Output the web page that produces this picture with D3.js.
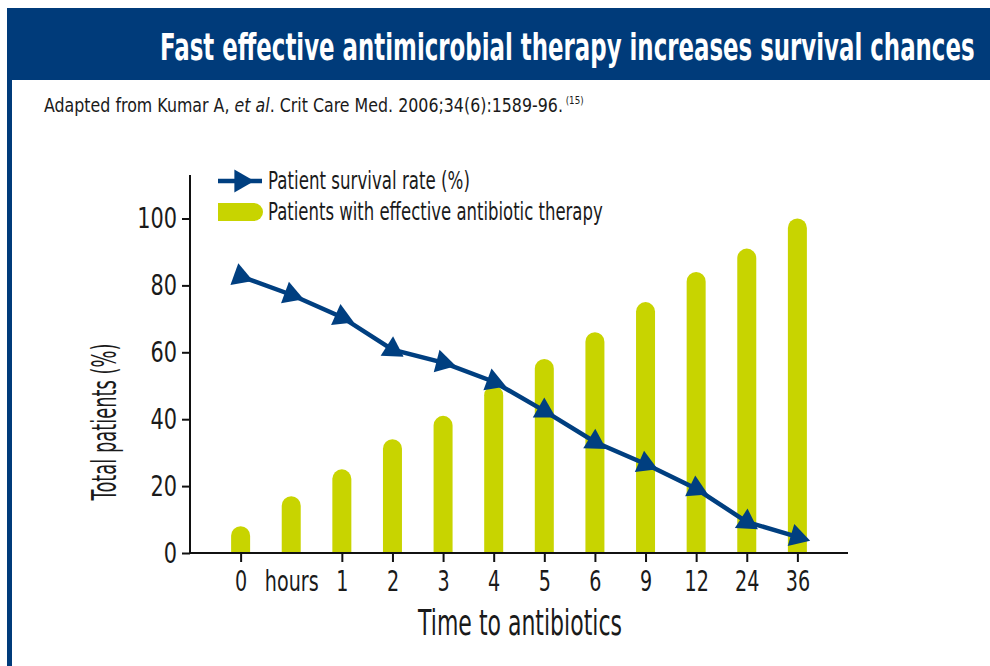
<!DOCTYPE html>
<html>
<head>
<meta charset="utf-8">
<script src="https://cdn.jsdelivr.net/npm/d3@7"></script>
<style>
  html, body { margin: 0; padding: 0; background: #fff; }
  svg { display: block; }
  text { font-family: "Liberation Sans Narrow", "DejaVu Sans", "Roboto", sans-serif; }
</style>
</head>
<body>
<script>
const categories = ["0", "hours", "1", "2", "3", "4", "5", "6", "9", "12", "24", "36"];
const therapyValues = [8, 17, 25, 34, 41, 50, 58, 66, 75, 84, 91, 100];
const survivalValues = [82.7, 77.2, 70.5, 60.8, 56.9, 51.2, 42.5, 33.2, 26.6, 19.2, 9.3, 4.8];
const yTicks = [0, 20, 40, 60, 80, 100];
const noTickCategories = ["hours"];

const W = 990, H = 666;
const blue = "#003b7a", lineBlue = "#003f80", barColor = "#c8d400", ink = "#1a1a1a";

const svg = d3.select("body").append("svg").attr("width", W).attr("height", H);

// horizontal squeeze helpers (condensed look)
function fitWidth(sel, target) {
  sel.each(function () {
    const n = this, w = n.getComputedTextLength();
    const s = target / w;
    const X = +(n.getAttribute("x") || 0);
    n.setAttribute("transform", `translate(${X},0) scale(${s},1) translate(${-X},0)`);
  });
}
function squeeze(sel, s) {
  sel.each(function () {
    const X = +(this.getAttribute("x") || 0);
    this.setAttribute("transform", `translate(${X},0) scale(${s},1) translate(${-X},0)`);
  });
}

// header
svg.append("rect").attr("x", 7).attr("y", 8).attr("width", W - 7).attr("height", 72).attr("fill", blue);
svg.append("rect").attr("x", 7).attr("y", 80).attr("width", 5).attr("height", H - 80).attr("fill", blue);
const title = svg.append("text").attr("x", 160).attr("y", 60)
  .attr("fill", "#fff").attr("font-size", 37).attr("font-weight", "bold")
  .text("Fast effective antimicrobial therapy increases survival chances");
fitWidth(title, 815);

// subtitle
const sub = svg.append("text").attr("x", 44).attr("y", 112).attr("font-size", 20).attr("fill", ink);
sub.append("tspan").text("Adapted from Kumar A, ");
sub.append("tspan").attr("font-style", "italic").text("et al");
sub.append("tspan").text(". Crit Care Med. 2006;34(6):1589-96.");
sub.append("tspan").attr("font-size", 11).attr("dy", -8).text(" (15)");
fitWidth(sub, 540);

// scales
const x = d3.scalePoint().domain(categories).range([190, 848]).padding(1);
const y = d3.scaleLinear().domain([0, 113]).range([553, 175]);

// bars
const bw = 19, r = bw / 2;
svg.append("g").selectAll("path").data(categories).join("path")
  .attr("fill", barColor)
  .attr("d", (c, i) => {
    const cx = x(c), x0 = cx - bw / 2, x1 = cx + bw / 2;
    const top = y(therapyValues[i]), base = y(0);
    return `M${x0},${base}V${top + r}A${r},${r} 0 0 1 ${x1},${top + r}V${base}Z`;
  });

// axes
const xAxis = svg.append("g").attr("transform", `translate(0,${y(0)})`)
  .call(d3.axisBottom(x).tickSizeOuter(0).tickSize(9).tickPadding(8));
xAxis.select(".domain").attr("d", `M190,0H848`).attr("stroke", "#111").attr("stroke-width", 2);
xAxis.selectAll(".tick line").attr("stroke", "#111").attr("stroke-width", 2)
  .attr("opacity", d => noTickCategories.includes(d) ? 0 : 1);
xAxis.selectAll(".tick text").attr("font-size", 29).attr("fill", ink)
  .style("font-family", '"Liberation Sans Narrow", "DejaVu Sans", sans-serif');
squeeze(xAxis.selectAll(".tick text"), 0.66);

const yAxis = svg.append("g").attr("transform", `translate(190,0)`)
  .call(d3.axisLeft(y).tickValues(yTicks).tickSizeOuter(0).tickSize(8).tickPadding(5));
yAxis.select(".domain").attr("d", `M0,${y(0)}V${y(113)}`).attr("stroke", "#111").attr("stroke-width", 2);
yAxis.selectAll(".tick line").attr("stroke", "#111").attr("stroke-width", 2);
yAxis.selectAll(".tick text").attr("font-size", 29).attr("fill", ink)
  .style("font-family", '"Liberation Sans Narrow", "DejaVu Sans", sans-serif');
squeeze(yAxis.selectAll(".tick text"), 0.72);

// axis titles
const yTitleG = svg.append("g").attr("transform", "translate(116,422) rotate(-90)");
const yTitle = yTitleG.append("text").attr("x", 0).attr("y", 0)
  .attr("text-anchor", "middle").attr("font-size", 34).attr("fill", ink)
  .text("Total patients (%)");
fitWidth(yTitle, 157);
const xTitle = svg.append("text").attr("x", 520).attr("y", 635)
  .attr("text-anchor", "middle").attr("font-size", 35).attr("fill", ink)
  .text("Time to antibiotics");
fitWidth(xTitle, 204);

// line
const pts = categories.map((c, i) => [x(c), y(survivalValues[i])]);
svg.append("path").datum(pts)
  .attr("fill", "none").attr("stroke", lineBlue).attr("stroke-width", 4.5)
  .attr("d", d3.line());

const tri = d3.symbol().type(d3.symbolTriangle).size(230)();
svg.append("g").selectAll("path").data(pts).join("path")
  .attr("d", tri).attr("fill", lineBlue)
  .attr("transform", (p, i) => {
    const a = i === 0 ? pts[0] : pts[i - 1];
    const b = i === 0 ? pts[1] : p;
    const ang = Math.atan2(b[1] - a[1], b[0] - a[0]);
    const deg = ang * 180 / Math.PI + 90;
    return `translate(${p[0]},${p[1]}) rotate(${deg})`;
  });

// legend
const lg = svg.append("g");
lg.append("line").attr("x1", 218).attr("x2", 262).attr("y1", 181).attr("y2", 181)
  .attr("stroke", lineBlue).attr("stroke-width", 4.5);
lg.append("path").attr("d", tri).attr("fill", lineBlue).attr("transform", "translate(241,181) rotate(90)");
const l1 = lg.append("text").attr("x", 268).attr("y", 189).attr("font-size", 24).attr("fill", ink)
  .text("Patient survival rate (%)");
fitWidth(l1, 202);
lg.append("path").attr("fill", barColor)
  .attr("d", "M218,203H254A9,9 0 0 1 254,221H218Z");
const l2 = lg.append("text").attr("x", 268).attr("y", 220).attr("font-size", 24).attr("fill", ink)
  .text("Patients with effective antibiotic therapy");
fitWidth(l2, 335);
</script>
</body>
</html>
